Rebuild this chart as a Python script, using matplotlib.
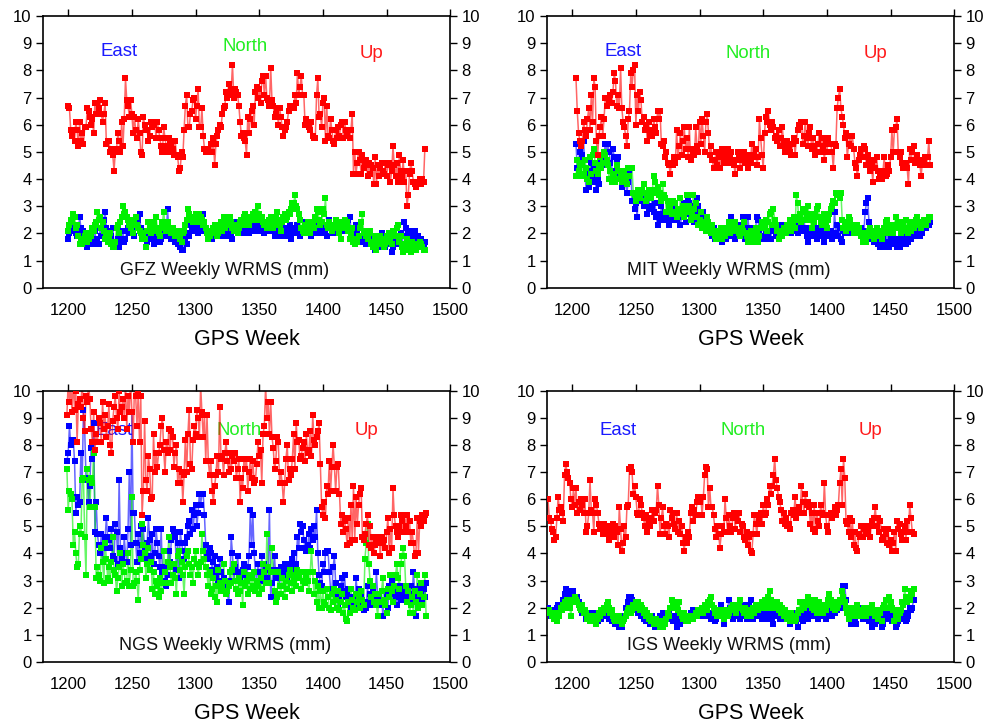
import matplotlib
matplotlib.use('Agg')
import matplotlib.pyplot as plt
import numpy as np

plt.rcParams['font.family'] = ['Liberation Sans', 'DejaVu Sans']

# ---------------- data (mm, weekly) ----------------
gfz_start = 1200
gfz_east = [
1.8,2.0,2.1,2.4,2.3,2.2,2.0,1.9,2.1,2.6,
2.2,1.9,2.1,1.7,1.9,1.5,1.8,2.0,1.6,2.2,
1.7,2.1,1.6,1.8,1.6,2.2,1.9,2.3,2.5,2.8,
2.2,2.0,1.8,2.1,1.9,2.2,1.6,1.5,1.7,1.8,
1.5,1.7,1.8,2.1,1.7,1.8,2.1,2.2,2.0,2.4,
2.3,2.1,1.9,2.2,2.6,2.5,2.7,2.2,2.0,2.1,
1.9,1.8,1.7,2.0,1.9,1.8,2.2,1.6,1.7,2.0,
1.9,2.1,1.7,1.8,2.0,2.2,2.0,1.9,2.9,2.1,
1.9,1.8,2.1,2.0,1.7,1.9,1.6,1.8,1.5,1.4,
1.4,1.9,1.7,1.6,2.0,1.9,2.3,2.2,2.1,2.4,
2.2,2.3,2.0,2.2,2.4,2.1,2.7,2.3,2.2,2.0,
1.9,2.1,2.0,1.8,2.2,1.9,2.1,2.0,1.9,2.2,
2.0,2.1,1.9,2.3,2.0,1.9,2.1,2.2,2.0,1.8,
2.2,2.1,2.4,2.0,2.3,2.2,2.1,2.0,2.4,2.3,
2.1,2.2,2.0,2.3,2.5,2.2,2.1,2.3,2.4,2.2,
2.1,2.3,2.2,2.4,2.0,2.1,2.2,2.3,2.1,2.2,
2.3,2.1,1.9,2.2,2.0,2.1,1.9,2.2,2.3,2.0,
2.2,1.9,2.1,2.0,2.3,1.8,2.1,2.2,2.0,2.1,
2.3,2.2,1.9,2.1,2.0,2.2,2.4,2.1,2.3,2.2,
2.0,1.9,2.1,2.2,2.0,2.1,2.3,2.2,2.0,2.1,
2.2,2.0,2.1,1.9,2.2,2.5,2.3,2.1,2.0,2.2,
2.1,2.3,2.0,2.2,2.1,2.3,2.4,2.2,2.1,2.3,
2.5,2.6,2.2,2.0,1.7,1.9,2.3,2.1,1.8,1.9,
1.8,1.7,2.0,1.9,1.6,1.8,2.0,1.9,1.7,1.6,
1.8,1.4,1.7,1.5,1.9,1.6,2.0,1.8,1.7,1.5,
1.8,1.6,1.9,1.7,1.3,1.5,1.8,1.6,1.7,1.9,
1.8,2.0,1.6,1.9,2.4,2.2,1.7,2.0,1.8,2.1,
2.0,1.9,2.1,1.8,1.7,1.9,1.6,1.8,1.7,1.6,
1.7]
gfz_north = [
2.1,2.3,2.5,2.4,2.7,2.6,2.2,2.3,1.9,1.6,
1.7,1.6,1.8,1.9,2.0,1.7,1.8,2.0,1.9,2.2,
2.1,2.3,2.4,2.8,2.5,2.6,2.2,2.4,2.1,1.8,
1.9,1.7,1.8,2.0,1.6,1.5,1.5,1.7,2.2,2.3,
2.0,2.4,2.6,3.0,2.7,2.8,2.6,2.5,2.3,2.2,
2.5,2.0,2.4,2.6,2.3,2.2,2.1,2.0,1.8,1.9,
1.8,1.5,2.1,2.4,2.2,2.0,2.3,2.4,2.1,2.6,
2.2,2.0,1.9,2.2,2.4,2.8,2.3,2.1,2.4,2.2,
2.1,2.0,2.2,2.1,1.9,2.0,2.1,2.0,1.8,1.7,
2.0,2.1,2.3,2.5,2.9,2.7,2.6,2.5,2.4,2.6,
2.7,2.5,2.4,2.7,2.6,2.5,2.3,2.4,2.2,2.0,
1.8,1.9,2.1,2.0,2.2,2.3,2.1,1.9,2.0,2.2,
2.4,2.1,2.6,2.2,2.4,2.3,2.5,2.6,2.4,2.2,
2.1,2.3,2.2,2.0,2.2,2.4,2.5,2.3,2.6,2.7,
2.4,2.5,2.3,2.6,2.5,2.7,2.6,2.8,2.5,3.0,
2.7,2.5,2.6,2.4,2.3,2.4,2.2,2.3,2.5,2.6,
2.4,2.2,2.3,2.6,2.8,2.5,2.3,2.1,2.4,2.6,
2.7,2.5,2.6,2.8,2.7,2.9,3.1,3.1,3.4,3.0,
2.9,2.7,2.5,2.2,2.1,2.0,2.3,2.2,2.4,2.1,
2.0,2.3,2.4,2.2,2.6,2.9,2.8,2.5,2.3,2.4,
2.9,2.7,3.3,2.3,2.2,2.4,2.3,2.1,2.2,2.3,
2.5,2.4,2.2,2.0,1.8,2.2,2.4,2.5,2.3,2.4,
2.1,1.8,2.0,2.2,1.7,1.6,1.8,1.7,1.9,2.2,
2.4,2.7,2.0,2.1,1.9,1.8,2.0,2.1,1.6,1.5,
1.7,1.9,1.4,1.6,1.8,1.9,1.7,1.8,1.5,1.6,
1.9,1.7,2.0,1.8,1.6,2.1,2.0,1.9,2.2,2.3,
1.7,1.9,1.5,1.3,1.6,1.4,1.8,1.6,1.5,1.3,
1.7,1.5,1.6,1.4,1.6,1.5,1.7,1.6,1.5,1.4,
1.4]
gfz_up = [
6.7,6.6,5.8,5.6,5.8,5.4,6.1,5.8,5.2,6.1,
5.4,5.7,5.3,5.9,5.9,6.6,6.5,6.3,6.0,6.2,
5.7,6.8,6.4,6.8,6.6,6.9,6.4,6.1,6.4,6.8,
5.3,5.4,5.4,5.0,5.1,4.9,4.3,5.0,5.1,5.7,
5.4,5.0,6.1,5.2,6.2,7.7,6.9,6.7,6.3,6.9,
6.4,5.7,6.3,5.8,5.5,6.2,5.7,5.0,4.9,6.3,
6.0,5.8,5.8,5.4,5.6,6.1,5.9,6.0,6.1,5.5,
6.1,5.8,5.5,5.2,5.0,5.9,5.5,5.2,5.0,5.5,
5.4,5.2,5.1,4.9,5.4,4.9,4.8,4.3,4.4,5.0,
4.8,5.8,6.7,7.1,5.9,5.9,6.4,6.5,6.9,7.0,
6.2,6.7,7.3,5.9,5.9,6.6,5.6,5.1,5.0,5.1,
5.1,5.0,5.3,5.0,5.5,4.5,5.3,5.6,5.8,6.0,
5.9,6.4,6.6,6.7,7.2,7.0,7.5,7.1,7.3,8.2,
7.0,7.3,7.2,7.1,6.7,6.1,5.6,5.7,5.5,5.4,
4.9,6.3,5.7,6.2,6.5,6.7,6.0,7.2,7.4,7.0,
7.3,6.8,7.6,7.8,7.1,7.8,7.0,6.9,6.7,8.1,
6.9,6.7,6.3,6.4,6.6,6.0,6.6,6.3,5.9,5.6,
5.8,5.9,6.1,6.5,6.7,6.7,6.7,6.6,7.1,6.8,
7.9,7.1,7.4,7.8,7.1,7.1,6.0,6.2,6.1,5.9,
5.8,6.1,5.6,5.5,5.5,7.1,7.7,6.3,6.4,5.9,
6.8,7.0,5.4,6.7,5.6,5.5,6.2,5.8,5.4,5.3,
5.8,5.5,5.9,5.6,6.0,6.1,5.5,6.1,5.8,5.6,
5.8,5.5,5.8,6.4,4.2,5.0,4.2,4.6,5.0,4.7,
4.2,4.9,4.4,4.5,4.7,4.1,4.6,4.2,4.5,4.4,
3.8,4.8,3.8,4.5,4.1,4.4,4.6,4.3,4.2,4.6,
4.1,4.5,4.6,3.9,4.3,5.2,4.5,4.1,4.6,3.9,
4.9,4.3,4.1,4.7,3.9,4.3,3.0,3.4,4.2,4.6,
4.3,3.9,3.8,3.7,3.9,3.8,4.0,3.8,4.0,3.9,
5.1]

mit_start = 1203
mit_east = [
5.3,4.4,4.7,5.0,4.5,4.9,5.4,4.2,3.6,4.0,
3.7,4.3,4.6,4.1,4.5,3.9,3.6,4.0,3.8,4.4,
4.7,4.5,4.9,5.3,5.0,5.3,5.0,4.6,4.3,5.1,
4.8,4.2,4.6,4.8,4.1,4.3,3.7,4.0,4.2,3.8,
3.5,3.9,4.2,4.4,3.2,3.5,2.9,3.1,2.6,3.4,
3.6,3.2,3.4,3.0,3.5,3.1,2.7,2.9,3.5,3.3,
3.0,2.8,3.1,2.6,2.3,2.7,2.5,3.0,2.6,2.5,
2.8,2.6,2.5,2.3,2.6,2.8,2.5,2.9,2.7,2.5,
2.6,2.8,2.3,2.7,2.9,3.1,2.4,2.7,3.3,3.1,
2.8,2.6,3.0,2.4,2.7,3.3,3.0,2.8,2.6,2.3,
2.8,2.5,2.4,2.2,2.1,2.3,2.0,1.9,2.2,1.8,
2.1,1.8,2.0,1.9,2.2,1.7,1.9,2.0,1.8,2.1,
2.3,1.9,2.6,2.4,1.9,1.8,2.2,2.0,2.3,2.1,
1.9,2.6,2.5,1.8,2.2,2.6,2.0,1.8,2.2,2.1,
1.9,2.2,2.6,2.5,2.0,1.8,2.2,2.4,1.9,2.1,
1.8,2.0,2.1,1.8,2.3,2.2,2.1,1.9,2.2,2.0,
2.1,2.3,2.2,2.0,2.1,2.2,2.3,2.1,2.2,2.0,
2.3,2.1,2.2,2.3,2.0,2.2,2.1,2.3,2.2,2.5,
2.1,1.9,1.7,2.2,2.1,2.0,1.9,2.1,2.2,1.8,
2.0,2.2,2.1,2.5,1.9,1.7,2.2,2.1,2.0,1.9,
2.1,1.8,2.0,2.8,2.0,2.3,1.9,2.2,1.8,1.7,
2.1,2.0,2.2,2.3,2.0,2.1,2.2,2.0,2.1,2.2,
2.0,2.3,2.1,2.0,2.2,2.1,2.0,2.8,3.1,3.3,
2.4,2.0,1.8,2.1,1.7,2.0,1.8,1.6,1.7,1.5,
1.6,1.8,1.5,1.6,2.0,1.7,1.5,1.8,1.6,1.9,
2.2,1.8,1.5,1.6,1.5,1.8,1.6,1.7,1.9,1.6,
1.8,1.7,1.9,1.8,2.0,1.9,2.0,2.2,2.1,2.0,
1.9,2.1,2.0,2.2,2.3,2.2,2.4,2.3,2.4]
mit_north = [
4.1,4.7,4.3,4.5,4.1,4.6,4.2,4.7,4.4,4.0,
3.9,4.8,4.2,4.9,5.1,4.6,4.3,4.2,4.5,4.8,
4.4,4.6,5.0,4.9,4.7,4.5,4.0,4.3,3.9,4.2,
4.1,3.9,4.5,4.3,4.0,4.2,3.9,4.1,4.3,4.0,
3.8,4.4,4.1,4.4,4.4,3.5,3.4,3.2,3.5,3.6,
3.3,3.5,3.6,3.8,3.5,3.2,3.3,3.6,3.5,3.3,
3.6,4.1,3.9,3.5,3.7,3.4,3.5,3.2,3.8,3.4,
3.3,2.8,3.2,3.0,2.9,2.7,3.2,2.8,3.1,2.6,
2.9,2.7,3.3,2.8,3.0,2.6,2.9,3.4,2.8,3.0,
2.5,2.7,3.4,2.9,3.1,2.6,2.3,2.5,2.8,2.2,
2.4,2.3,2.1,2.6,2.4,2.2,2.0,2.3,2.1,1.9,
1.8,2.1,1.9,2.0,2.2,1.8,2.0,1.9,2.2,2.1,
2.4,2.0,2.2,2.1,2.3,2.4,2.1,2.2,2.0,1.9,
2.2,2.1,2.4,2.0,1.9,1.7,1.8,2.1,1.7,2.0,
1.8,2.2,2.0,1.7,1.9,2.2,2.4,2.3,2.2,2.5,
2.1,2.4,2.7,2.8,2.3,2.9,2.5,2.3,2.1,1.8,
2.0,2.1,1.9,2.2,2.1,2.0,2.3,2.2,2.5,2.1,
2.4,2.6,2.2,3.4,3.1,2.5,2.7,2.4,2.9,2.5,
2.8,2.6,3.0,2.7,2.5,2.2,2.5,2.4,2.7,2.9,
3.0,2.6,2.4,2.3,2.5,2.7,2.4,2.2,2.5,2.7,
2.9,3.0,3.2,3.1,3.5,3.4,3.5,3.3,3.5,2.5,
2.2,2.4,2.1,2.3,2.6,2.5,2.3,2.2,2.0,2.2,
2.1,2.3,2.2,2.0,1.9,1.7,1.8,2.0,1.7,1.9,
2.1,2.2,2.0,2.1,1.8,2.0,2.2,2.1,1.9,2.0,
1.8,2.0,2.2,2.4,2.5,2.2,2.0,2.3,2.1,2.0,
2.3,2.6,2.2,2.4,2.2,2.0,2.3,2.4,2.1,2.5,
2.2,2.0,2.3,2.1,2.4,2.2,2.3,2.5,2.6,2.3,
2.4,2.2,2.3,2.5,2.4,2.3,2.5,2.6,2.6]
mit_up = [
7.7,6.5,5.7,5.4,5.2,5.4,6.1,5.8,5.6,6.2,
6.6,5.8,7.1,6.1,7.7,7.4,5.4,4.9,5.6,5.9,
6.3,5.6,6.2,7.0,6.7,7.0,6.9,7.1,6.8,7.2,
7.9,7.6,6.7,7.1,6.6,8.1,6.6,6.1,5.9,5.6,
5.2,6.2,6.5,7.9,7.4,8.0,8.2,6.0,7.1,6.5,
7.2,6.9,6.1,6.3,5.8,6.0,5.4,6.1,5.6,5.8,
5.6,6.2,5.9,5.7,6.5,6.2,6.5,5.3,5.2,5.4,
4.8,5.0,4.6,4.5,4.2,4.6,4.5,4.8,4.6,5.8,
4.8,5.2,5.7,4.9,5.4,5.9,5.1,5.5,4.8,5.9,
4.7,5.1,5.0,4.9,5.9,5.2,5.0,6.1,5.3,6.2,
5.6,5.0,6.1,6.4,5.7,4.9,5.2,4.7,4.4,4.7,
5.0,4.5,4.8,4.4,4.9,5.1,4.6,4.8,5.0,5.1,
4.6,4.8,5.0,4.7,4.5,4.2,4.7,5.0,4.8,4.4,
4.7,4.9,5.0,4.6,4.8,4.4,4.9,4.6,5.3,4.8,
4.9,5.1,4.5,4.8,6.2,5.5,4.9,4.4,5.7,6.3,
6.1,6.5,6.0,5.8,6.1,5.9,5.5,5.6,5.4,5.8,
5.2,5.5,5.9,5.3,5.0,5.1,5.4,5.2,5.0,4.9,
5.3,5.5,4.9,5.4,5.8,6.0,5.9,6.1,5.3,5.6,
6.1,5.5,5.2,5.7,5.9,5.1,5.5,5.2,4.9,5.0,
5.3,5.7,5.0,5.5,5.2,4.7,5.3,5.0,5.5,5.3,
5.3,5.0,4.4,5.3,5.2,6.6,7.0,7.3,6.6,6.3,
6.0,5.5,5.7,4.8,5.3,5.6,5.2,5.6,5.1,4.6,
4.4,4.1,4.7,4.9,5.1,4.8,5.2,5.1,4.5,4.9,
4.7,4.3,4.5,3.9,4.7,4.4,4.8,4.3,4.0,4.2,
4.0,4.3,4.8,4.1,4.2,4.5,4.3,4.8,5.8,5.0,
5.8,5.9,6.2,5.0,4.8,5.0,4.6,4.4,4.6,4.5,
4.4,3.8,5.1,4.7,5.0,5.2,4.6,4.7,4.9,4.7,
4.5,4.1,4.7,4.6,4.8,4.5,4.8,5.4,4.5]

ngs_start = 1199
ngs_east = [
7.4,7.7,8.7,8.0,8.2,8.2,7.4,5.5,6.1,5.8,
5.9,7.7,6.7,9.3,8.5,6.8,6.7,5.9,6.5,7.9,
7.5,8.8,4.8,5.9,4.7,4.3,4.0,4.7,3.7,4.2,
4.6,5.3,4.6,4.5,4.2,4.9,3.9,3.8,5.1,4.8,
3.6,6.7,4.2,3.8,3.6,4.6,4.0,3.7,4.9,7.0,
4.3,9.2,5.5,5.5,4.4,3.7,4.7,4.0,5.0,4.3,
4.9,4.2,3.8,4.4,5.3,4.5,3.9,4.7,3.6,4.0,
4.9,4.4,3.9,3.5,4.9,3.3,3.5,3.0,2.8,3.2,
4.1,3.7,4.5,4.9,4.8,4.6,3.4,4.4,3.1,4.8,
4.4,4.1,3.8,4.4,4.6,5.0,5.2,4.7,5.6,4.9,
5.4,5.8,5.0,5.5,6.2,5.8,6.2,6.2,5.4,4.3,
4.0,3.8,4.2,4.0,3.4,3.7,3.9,3.2,3.5,3.0,
3.8,3.3,2.9,3.1,2.8,2.9,2.6,2.2,3.0,4.6,
4.0,3.0,3.5,3.3,3.9,3.3,3.1,2.9,3.4,3.6,
3.2,3.0,3.5,3.9,5.6,4.3,5.4,4.0,3.3,3.0,
3.6,3.3,3.0,3.9,3.3,3.6,3.4,3.1,3.5,5.6,
2.4,2.9,3.4,3.9,3.1,3.2,3.4,2.8,3.5,3.2,
3.3,3.6,3.4,3.1,3.5,3.6,3.4,3.8,4.0,3.3,
3.6,4.6,4.2,5.1,4.8,5.0,4.5,4.2,4.1,4.3,
4.7,4.2,4.9,4.5,5.0,4.6,5.6,4.0,3.2,2.9,
2.8,3.6,3.3,4.0,4.1,4.1,3.3,2.7,2.6,3.5,
3.9,2.9,2.5,2.0,2.3,2.8,3.1,2.6,3.2,2.4,
2.6,2.7,2.2,2.0,2.4,2.3,2.1,3.1,2.5,2.7,
2.2,2.4,2.0,1.9,2.2,2.0,2.8,2.1,2.5,2.3,
2.6,2.1,2.4,3.3,2.4,2.1,2.2,2.6,1.7,2.3,
2.1,2.5,2.0,2.8,2.5,3.0,2.2,2.6,2.4,2.1,
2.5,2.8,2.3,2.6,2.5,2.8,2.4,2.2,2.7,2.5,
2.8,2.3,3.3,2.7,1.7,2.4,2.1,2.8,2.6,2.3,
2.7,2.4,2.9]
ngs_north = [
7.1,5.6,6.3,6.2,6.0,4.3,4.8,4.0,3.5,3.6,
5.0,4.7,6.7,6.8,4.6,3.2,7.1,6.7,5.7,6.8,
6.6,7.7,5.7,3.1,3.5,3.2,3.0,4.2,3.7,2.9,
4.4,3.8,3.1,3.5,3.0,3.7,4.6,3.4,3.2,2.6,
3.1,3.5,4.0,2.8,3.6,3.3,2.9,3.0,4.0,2.8,
3.4,6.1,2.8,2.9,3.3,3.0,2.3,3.4,3.8,5.1,
4.3,4.0,3.1,3.6,4.2,3.4,3.7,2.7,3.3,2.5,
3.0,2.8,2.4,3.1,2.6,2.9,4.1,3.3,2.9,3.7,
4.6,3.5,2.9,3.2,3.6,3.1,2.5,3.9,4.1,3.4,
3.7,3.2,2.5,3.5,3.9,4.1,3.6,3.2,3.5,2.9,
3.8,4.1,3.6,3.2,3.5,3.7,4.7,4.1,3.8,3.5,
3.2,2.8,3.3,2.5,2.7,3.1,2.4,2.8,2.2,3.4,
2.9,2.6,2.8,3.6,3.0,2.5,2.6,2.8,3.3,2.9,
3.4,3.6,3.0,2.7,2.5,3.1,2.6,2.9,2.1,3.3,
2.8,3.0,2.5,3.2,2.7,3.1,2.8,3.3,2.6,3.0,
2.8,2.5,3.1,2.7,3.6,3.3,2.9,4.7,3.5,2.9,
3.3,4.2,3.3,2.6,2.2,2.4,3.3,2.8,2.5,3.1,
2.8,2.4,3.0,2.7,3.2,3.4,2.9,2.6,3.0,3.2,
2.8,3.4,3.1,3.3,2.7,3.0,3.3,2.9,3.2,3.0,
2.6,3.3,4.1,3.3,2.5,3.0,2.2,2.8,2.0,2.6,
2.0,2.6,2.2,2.1,2.7,2.4,2.0,1.9,2.5,2.2,
2.7,2.3,2.0,2.6,1.9,2.2,2.5,1.8,2.1,1.6,
1.5,2.2,1.8,2.7,2.3,2.0,1.9,2.5,2.2,2.4,
2.0,2.6,2.3,2.1,3.8,4.4,5.1,3.6,3.0,2.4,
2.8,2.2,2.5,2.1,1.7,2.5,2.2,2.6,3.1,2.3,
2.1,1.8,2.7,2.4,3.2,2.6,2.2,2.8,3.2,3.6,
3.1,2.7,3.6,3.9,4.2,3.9,2.8,2.2,2.6,1.8,
2.1,2.4,1.8,2.6,2.2,3.2,2.0,2.5,2.9,2.1,
2.4,3.2,1.7]
ngs_up = [
9.1,10.3,9.6,10.2,9.2,10.5,9.3,10.0,8.1,9.5,
9.7,9.4,10.4,9.0,8.5,9.8,9.6,10.2,9.7,8.6,
8.1,9.2,7.8,8.4,8.1,9.0,8.8,8.1,9.6,8.6,
9.1,8.3,8.7,9.5,8.0,7.7,8.9,9.4,9.8,9.0,
8.6,10.0,9.2,9.4,9.7,9.0,10.3,8.6,9.8,9.2,
10.4,9.2,8.1,10.1,9.8,8.7,9.9,8.1,9.8,5.4,
6.3,8.9,6.7,6.3,7.6,7.1,6.0,6.1,8.4,7.0,
7.7,7.2,7.7,8.0,8.7,9.0,7.8,7.0,8.1,7.7,
8.6,7.8,8.5,8.3,7.2,7.7,8.0,6.6,7.1,6.6,
7.0,5.9,6.9,8.2,7.0,8.4,9.3,7.3,7.1,8.2,
8.7,8.4,9.3,9.0,8.3,10.2,9.2,8.3,9.1,7.4,
9.1,7.4,6.9,7.4,6.3,5.9,6.5,6.9,7.6,7.0,
9.4,7.5,7.6,6.9,7.7,8.1,7.4,7.0,7.7,7.1,
7.6,7.4,7.7,6.8,7.1,7.5,5.9,6.8,6.4,7.5,
7.1,7.5,6.3,7.0,7.5,6.8,7.4,6.6,6.7,7.3,
8.1,7.6,7.8,6.6,8.4,8.7,10.2,9.0,9.6,8.4,
9.6,8.3,7.9,7.1,7.4,8.3,8.1,6.6,7.0,6.6,
5.9,6.6,7.5,8.0,6.7,7.1,6.9,7.5,8.4,7.1,
8.8,8.1,8.2,7.5,7.6,7.9,8.1,7.4,8.4,7.7,
7.8,8.5,7.6,9.1,8.2,8.0,8.3,8.5,8.8,7.3,
5.7,5.4,5.9,5.3,6.5,6.2,7.4,6.3,7.2,8.0,
7.2,6.3,7.2,7.3,6.2,5.1,5.4,4.8,5.2,4.9,
4.3,5.3,4.4,5.8,4.5,6.5,4.5,6.1,5.1,5.8,
6.2,6.4,4.6,4.5,4.7,5.1,5.4,4.3,5.0,4.2,
4.6,4.0,4.3,4.5,4.4,4.6,3.9,4.6,4.4,4.5,
4.2,4.8,5.3,4.0,4.9,4.2,6.4,5.4,5.0,4.8,
4.6,5.0,5.4,5.2,4.8,5.4,5.0,5.4,4.8,5.2,
4.4,4.8,4.4,3.9,4.0,5.3,4.0,5.2,5.0,5.4,
5.2,5.4,5.5]

igs_start = 1180
igs_east = [
1.8,2.0,1.9,1.7,1.8,1.9,1.7,1.8,2.0,2.1,
1.9,2.1,2.0,2.3,2.5,2.7,2.5,2.4,2.5,2.6,
2.5,2.6,2.4,2.3,2.4,2.2,2.0,2.1,1.8,1.9,
1.8,1.6,1.7,1.8,1.6,1.5,1.7,1.8,1.6,1.7,
1.5,1.8,1.7,1.6,1.9,1.8,1.7,1.9,1.8,1.6,
1.7,1.5,1.6,1.5,1.4,1.6,1.5,1.3,1.4,1.3,
1.5,1.7,2.0,1.9,2.2,2.4,2.4,2.3,2.1,2.0,
2.1,1.9,1.8,1.9,1.7,1.8,1.6,1.7,1.5,1.6,
1.6,1.4,1.5,1.7,1.4,1.3,1.6,1.5,1.4,1.7,
1.6,1.8,1.6,1.4,1.7,1.6,1.8,1.7,1.6,1.5,
1.7,1.6,1.3,1.5,1.6,1.4,1.5,1.6,1.7,1.6,
1.5,1.7,1.6,1.8,1.7,1.9,1.8,1.7,1.9,1.8,
1.9,1.8,1.7,2.0,1.9,1.8,2.1,1.7,1.8,1.6,
1.8,1.7,1.5,1.6,1.8,1.7,1.9,2.1,1.8,1.4,
1.8,1.7,1.9,2.3,2.0,1.8,1.6,1.9,1.8,2.0,
1.7,1.9,1.6,1.8,1.7,2.1,1.9,1.6,2.0,2.1,
2.3,1.8,1.6,1.9,1.7,1.8,2.0,1.7,1.8,1.6,
1.7,1.9,1.8,1.6,1.9,1.7,1.8,1.6,1.4,1.7,
1.8,1.7,1.9,1.6,1.8,1.7,1.9,1.6,1.8,1.7,
1.6,1.4,1.7,1.5,1.6,1.8,1.5,1.3,1.6,1.8,
1.9,1.5,1.7,2.0,1.8,1.6,2.0,1.7,1.9,1.8,
2.0,1.7,1.9,1.6,2.0,2.1,1.8,1.7,1.9,1.6,
1.7,2.0,1.8,2.1,1.7,1.9,1.8,2.0,1.9,2.1,
2.0,2.1,2.3,2.8,2.8,2.3,2.0,1.8,1.6,1.4,
1.5,1.4,1.6,1.4,1.7,1.8,2.0,1.7,1.6,1.8,
1.7,1.9,1.6,1.5,1.8,1.3,1.5,1.6,1.4,1.8,
1.6,1.7,1.5,1.3,1.4,1.7,1.9,1.6,1.8,1.7,
1.6,1.5,1.7,1.8,1.3,1.4,1.5,1.6,1.9,1.7,
1.6,1.8,1.5,1.6,1.7,2.0,1.9,2.0,2.3]
igs_north = [
1.9,1.8,1.9,1.8,1.7,1.8,1.6,1.7,1.5,1.8,
1.7,2.0,1.9,2.1,2.2,2.0,2.3,2.1,2.0,1.7,
2.3,2.2,2.4,2.3,2.2,2.1,2.0,1.9,2.1,1.8,
1.9,1.8,1.6,1.7,1.5,1.6,1.5,1.6,1.7,1.4,
1.6,1.8,1.7,1.9,1.8,2.0,1.9,2.1,2.2,2.0,
1.8,1.9,1.7,1.6,1.5,1.6,1.5,1.7,1.6,1.4,
1.5,1.6,1.7,1.8,1.9,2.0,1.8,1.9,2.1,2.0,
2.2,2.1,2.2,1.9,2.1,2.0,1.8,1.9,1.7,1.8,
1.6,1.7,1.5,1.6,1.4,1.5,1.6,1.4,1.5,1.3,
1.4,1.3,1.5,1.4,1.6,1.8,1.7,2.0,2.3,2.1,
2.0,2.2,2.1,1.9,2.2,1.8,1.7,1.6,1.8,1.5,
1.6,1.5,1.7,1.6,1.7,1.6,1.7,1.8,1.7,1.9,
1.8,1.9,2.0,1.8,2.1,2.0,1.9,2.2,2.3,2.4,
2.1,2.0,1.8,1.9,1.7,1.8,1.9,1.7,1.8,1.6,
1.8,1.9,1.7,1.8,1.9,2.0,2.1,1.9,2.0,1.8,
2.0,2.1,2.3,2.0,1.9,1.8,2.0,1.7,1.9,1.8,
1.7,1.9,2.0,1.8,2.1,2.0,1.9,2.1,2.0,2.2,
2.1,2.3,2.2,2.0,2.4,2.6,2.3,2.2,2.0,2.1,
2.0,2.2,1.9,2.1,1.8,2.0,1.7,1.9,1.8,1.6,
1.7,1.5,1.8,1.6,1.7,1.5,1.6,1.8,1.9,2.2,
1.9,2.1,2.0,2.2,2.1,2.4,2.3,2.2,2.0,2.1,
1.9,2.3,1.8,2.0,2.2,1.9,2.1,1.8,2.0,1.9,
2.1,2.3,2.5,2.3,2.1,2.0,1.9,2.2,2.0,2.1,
2.3,2.2,2.6,2.4,2.2,2.0,1.8,1.6,1.7,1.9,
2.0,1.8,1.7,1.9,2.1,1.8,1.7,1.9,1.8,2.0,
1.9,1.7,1.8,2.0,1.9,2.1,1.8,1.9,1.7,1.8,
1.6,1.9,1.8,1.5,2.0,2.1,2.3,2.0,2.3,2.4,
2.2,2.0,1.9,1.5,1.7,1.9,1.6,1.8,1.9,2.2,
2.1,2.7,2.4,2.2,2.4,2.3,2.6,2.5,2.7]
igs_up = [
5.3,6.0,5.3,5.2,4.9,4.8,4.5,4.6,5.3,6.1,
5.6,5.7,5.5,5.2,6.9,7.3,7.0,6.8,6.6,6.0,
5.7,6.4,5.8,6.4,5.5,5.9,5.6,6.0,5.8,5.5,
6.0,4.8,5.0,5.5,6.7,5.6,5.5,4.8,6.0,5.8,
5.5,5.1,4.9,5.0,4.7,5.1,4.8,4.9,4.7,4.5,
5.0,4.8,5.1,4.6,5.0,4.8,4.3,5.7,4.9,4.1,
4.4,5.0,4.6,5.7,5.8,7.1,7.2,7.0,6.2,6.5,
6.1,5.5,5.4,6.0,5.8,5.5,5.3,5.0,5.4,4.8,
5.2,5.0,5.3,5.6,5.2,5.5,5.6,6.5,5.8,4.7,
5.3,5.7,5.0,4.7,5.1,5.0,4.6,5.6,5.3,5.5,
5.1,4.9,5.5,4.8,5.2,4.7,5.0,4.4,4.1,4.6,
4.4,4.8,4.6,5.5,5.7,5.2,5.6,5.4,5.9,6.1,
5.9,6.1,5.4,6.1,6.9,7.2,7.1,5.7,6.4,5.7,
5.7,5.4,4.9,4.6,5.0,4.7,4.2,4.7,5.0,4.8,
6.0,5.3,4.8,5.4,5.0,4.8,5.3,5.5,4.9,5.4,
5.2,5.5,4.8,5.1,5.0,4.6,4.5,4.8,4.3,4.6,
4.1,4.0,4.7,5.4,5.1,4.7,5.4,5.3,5.5,5.1,
5.8,5.4,5.5,6.0,5.8,6.5,6.2,6.5,6.9,7.5,
6.7,6.4,6.1,5.9,5.6,5.2,5.5,5.1,5.3,5.0,
5.1,4.9,5.5,5.6,5.4,6.1,5.3,5.6,5.7,5.5,
6.5,5.9,5.5,6.2,5.8,5.9,5.7,5.1,5.5,4.9,
5.8,4.8,5.5,5.2,5.0,5.8,5.5,5.4,6.6,5.4,
5.0,4.8,5.4,5.5,5.3,5.5,5.7,5.4,5.6,5.8,
6.6,7.1,5.8,7.5,6.8,5.2,5.1,4.8,5.3,4.6,
5.2,4.3,4.8,4.2,4.1,4.7,4.6,5.0,4.6,4.9,
5.0,4.7,4.8,5.0,4.6,5.2,5.0,5.3,5.7,5.0,
5.3,4.8,5.2,4.5,4.6,4.9,4.7,4.4,4.9,4.3,
4.5,4.1,4.4,4.8,4.1,5.2,4.9,5.1,4.7,4.5,
4.8,5.0,4.5,5.2,4.8,5.8,5.3,4.8,4.7]

centers = ['GFZ', 'MIT', 'NGS', 'IGS']
starts = [gfz_start, mit_start, ngs_start, igs_start]
series = [(gfz_east, gfz_north, gfz_up),
          (mit_east, mit_north, mit_up),
          (ngs_east, ngs_north, ngs_up),
          (igs_east, igs_north, igs_up)]
components = ['East', 'North', 'Up']
x_ticks = [1200, 1250, 1300, 1350, 1400, 1450, 1500]
y_ticks = list(range(0, 11))

# ---------------- styling ----------------
colors = ['#0000ff', '#00f000', '#ff0000']
label_colors = ['#1a1aff', '#22ee22', '#ff1a1a']
W, H = 985, 723
fig = plt.figure(figsize=(W / 100, H / 100), dpi=100)
boxes = [(42.7, 16.0, 450.3, 287.7), (546.7, 16.0, 954.3, 287.7),
         (42.7, 390.7, 450.3, 662.0), (546.7, 390.7, 954.3, 662.0)]
label_pos = [[(1240, 8.68), (1339, 8.87), (1438, 8.63)],
             [(1240, 8.68), (1338.5, 8.63), (1438, 8.63)],
             [(1236, 8.53), (1334.5, 8.53), (1434, 8.53)],
             [(1236, 8.53), (1334.5, 8.53), (1434, 8.53)]]

for i, (name, st, ser, box) in enumerate(zip(centers, starts, series, boxes)):
    l, t, r, b = box
    ax = fig.add_axes([l / W, 1 - b / H, (r - l) / W, (b - t) / H])
    ax.set_xlim(1180, 1500)
    ax.set_ylim(0, 10)
    for (lx, ly), comp, lc in zip(label_pos[i], components, label_colors):
        ax.text(lx, ly, comp, color=lc, fontsize=13.4, ha='center',
                va='center', zorder=1)
    ax.text(1323, 0.62, f'{name} Weekly WRMS (mm)', fontsize=13,
            ha='center', va='center', color='#111111', zorder=1)
    for vals, c in zip(ser, colors):
        x = st + np.arange(len(vals))
        ax.plot(x, vals, '-', color=c, lw=1.1, alpha=0.6, zorder=2)
        ax.plot(x, vals, 's', color=c, ms=3.9, mew=0, zorder=3)
    ax.set_xticks(x_ticks)
    ax.set_yticks(y_ticks)
    ax.tick_params(axis='y', which='both', left=True, right=True,
                   labelleft=True, labelright=True, direction='out',
                   length=5, width=1, labelsize=12, pad=3)
    ax.tick_params(axis='x', which='both', top=True, bottom=False,
                   labeltop=False, labelbottom=True, direction='out',
                   length=5, width=1, labelsize=12, pad=6)
    for s in ax.spines.values():
        s.set_linewidth(1.2)
    ax.set_xlabel('GPS Week', fontsize=15.5, labelpad=8)

fig.savefig('out.png', dpi=100)
